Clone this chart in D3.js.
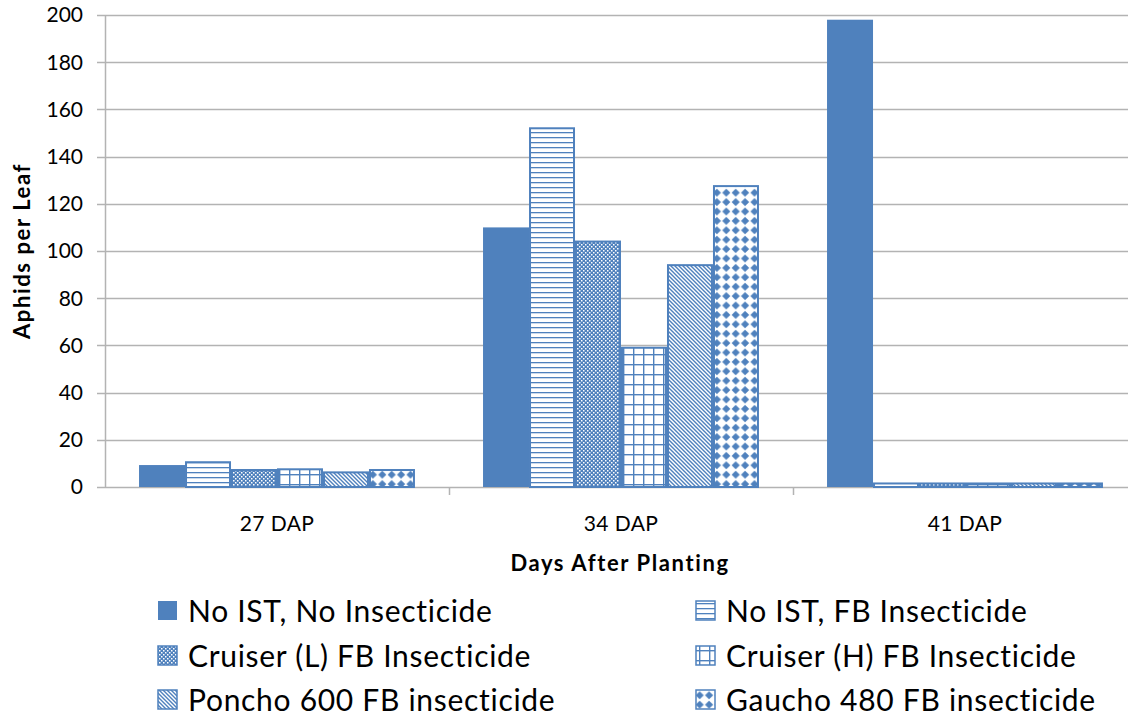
<!DOCTYPE html>
<html>
<head>
<meta charset="utf-8">
<script src="https://cdn.jsdelivr.net/npm/d3@7"></script>
<style>
  body { margin: 0; background: #fff; }
  text { font-family: Lato, "Open Sans", sans-serif; fill: #000; }
</style>
</head>
<body>
<script>
// chart data
var categories = ["27 DAP", "34 DAP", "41 DAP"];
var seriesNames = [
  "No IST, No Insecticide",
  "No IST, FB Insecticide",
  "Cruiser (L) FB Insecticide",
  "Cruiser (H) FB Insecticide",
  "Poncho 600 FB insecticide",
  "Gaucho 480 FB insecticide"
];
var noIstNoIns  = [9.3, 110, 198];
var noIstFb     = [10.5, 152, 1.5];
var cruiserL    = [7.2, 104, 1.5];
var cruiserH    = [7.5, 59, 1.5];
var poncho600   = [6.2, 94, 1.5];
var gaucho480   = [7.2, 127.5, 1.5];
var seriesValues = [noIstNoIns, noIstFb, cruiserL, cruiserH, poncho600, gaucho480];
var yTicks = [0, 20, 40, 60, 80, 100, 120, 140, 160, 180, 200];

var WIDTH = 1128, HEIGHT = 719;
var BLUE = "#4F81BD";
var GRID = "#b3b3b3";

var svg = d3.select("body").append("svg")
  .attr("width", WIDTH).attr("height", HEIGHT);

// fill patterns
var defs = svg.append("defs");
var pats = [];
pats.push(BLUE);

var p1 = defs.append("pattern").attr("id", "p1").attr("patternUnits", "userSpaceOnUse")
  .attr("width", 8).attr("height", 5);
p1.append("rect").attr("width", 8).attr("height", 5).attr("fill", "#fff");
p1.append("rect").attr("y", 2).attr("width", 8).attr("height", 1.3).attr("fill", BLUE);
pats.push("url(#p1)");

var p2 = defs.append("pattern").attr("id", "p2").attr("patternUnits", "userSpaceOnUse")
  .attr("width", 4).attr("height", 4);
p2.append("rect").attr("width", 4).attr("height", 4).attr("fill", BLUE);
p2.append("rect").attr("x", 0).attr("y", 0).attr("width", 1.5).attr("height", 1.5).attr("fill", "#fff");
p2.append("rect").attr("x", 2).attr("y", 2).attr("width", 1.5).attr("height", 1.5).attr("fill", "#fff");
pats.push("url(#p2)");

var p3 = defs.append("pattern").attr("id", "p3").attr("patternUnits", "userSpaceOnUse")
  .attr("width", 10).attr("height", 10);
p3.append("rect").attr("width", 10).attr("height", 10).attr("fill", "#fff");
p3.append("rect").attr("x", 4).attr("width", 1.4).attr("height", 10).attr("fill", BLUE);
p3.append("rect").attr("y", 4).attr("width", 10).attr("height", 1.4).attr("fill", BLUE);
pats.push("url(#p3)");

var p4 = defs.append("pattern").attr("id", "p4").attr("patternUnits", "userSpaceOnUse")
  .attr("width", 4).attr("height", 4);
p4.append("rect").attr("width", 4).attr("height", 4).attr("fill", "#fff");
p4.append("path").attr("d", "M-1,-1 L5,5 M-1,3 L1,5 M3,-1 L5,1")
  .attr("stroke", BLUE).attr("stroke-width", 1.4);
pats.push("url(#p4)");

var p5 = defs.append("pattern").attr("id", "p5").attr("patternUnits", "userSpaceOnUse")
  .attr("width", 9.4).attr("height", 9.4);
p5.append("rect").attr("width", 9.4).attr("height", 9.4).attr("fill", "#fff");
p5.append("path").attr("d", "M4.7,0.6 L8.8,4.7 L4.7,8.8 L0.6,4.7 Z").attr("fill", BLUE);
pats.push("url(#p5)");

// layout
var plotLeft = 105, plotRight = 1137, plotTop = 15, plotBottom = 487;

var x0 = d3.scaleBand().domain(categories).range([plotLeft, plotRight]);
var x1 = d3.scaleBand().domain(d3.range(seriesNames.length))
  .range([0, x0.bandwidth()]).paddingOuter(0.74);
var y = d3.scaleLinear().domain([0, 200]).range([plotBottom, plotTop]);

// gridlines
svg.append("g").selectAll("line").data(yTicks).join("line")
  .attr("x1", plotLeft - 8).attr("x2", plotRight)
  .attr("y1", function(d) { return Math.round(y(d)) + 0.5; })
  .attr("y2", function(d) { return Math.round(y(d)) + 0.5; })
  .attr("stroke", GRID).attr("stroke-width", 1.5);

// y axis line
svg.append("line").attr("x1", plotLeft + 0.5).attr("x2", plotLeft + 0.5)
  .attr("y1", plotTop).attr("y2", plotBottom)
  .attr("stroke", GRID).attr("stroke-width", 1.5);

// y tick labels
svg.append("g").selectAll("text").data(yTicks).join("text")
  .attr("x", 83).attr("y", function(d) { return y(d); })
  .attr("dy", "0.35em").attr("text-anchor", "end")
  .style("font-size", "21px")
  .text(function(d) { return d; });

// x category ticks
svg.append("g").selectAll("line").data(categories.slice(1)).join("line")
  .attr("x1", function(d) { return Math.round(x0(d)) + 0.5; })
  .attr("x2", function(d) { return Math.round(x0(d)) + 0.5; })
  .attr("y1", plotBottom).attr("y2", plotBottom + 8)
  .attr("stroke", GRID).attr("stroke-width", 1.5);

// bars
var groups = svg.append("g").selectAll("g").data(categories).join("g")
  .attr("transform", function(d) { return "translate(" + x0(d) + ",0)"; });

groups.selectAll("rect")
  .data(function(d, ci) {
    return seriesValues.map(function(s, si) { return { si: si, v: s[ci] }; });
  })
  .join("rect")
  .attr("x", function(d) { return x1(d.si) + (d.si === 0 ? 0 : 1); })
  .attr("width", function(d) { return x1.bandwidth() - (d.si === 0 ? 0 : 2); })
  .attr("y", function(d) { return y(d.v); })
  .attr("height", function(d) { return plotBottom - y(d.v); })
  .attr("fill", function(d) { return pats[d.si]; })
  .attr("stroke", function(d) { return d.si === 0 ? "none" : BLUE; })
  .attr("stroke-width", 2);

// category labels
svg.append("g").selectAll("text").data(categories).join("text")
  .attr("x", function(d) { return x0(d) + 172; })
  .attr("y", 531).attr("text-anchor", "middle")
  .style("font-size", "21px").style("letter-spacing", "0.4px")
  .text(function(d) { return d; });

// axis titles
svg.append("text").attr("x", 620).attr("y", 571).attr("text-anchor", "middle")
  .style("font-size", "22px").style("font-weight", "bold").style("letter-spacing", "1.6px")
  .text("Days After Planting");

svg.append("text").attr("transform", "translate(30,251) rotate(-90)")
  .attr("text-anchor", "middle")
  .style("font-size", "22px").style("font-weight", "bold").style("letter-spacing", "1.6px")
  .text("Aphids per Leaf");

// legend
var legCols = [157, 695];
var legRows = [611, 656, 700];
var leg = svg.append("g").selectAll("g").data(seriesNames).join("g")
  .attr("transform", function(d, i) {
    return "translate(" + legCols[i % 2] + "," + legRows[Math.floor(i / 2)] + ")";
  });
leg.append("rect")
  .attr("x", 1).attr("y", -10).attr("width", 19).attr("height", 19)
  .attr("fill", function(d, i) { return pats[i]; })
  .attr("stroke", function(d, i) { return i === 0 ? "none" : BLUE; })
  .attr("stroke-width", 1.5);
leg.append("text").attr("x", 31).attr("y", 0).attr("dy", "0.35em")
  .style("font-size", "30px").style("letter-spacing", "0.7px")
  .text(function(d) { return d; });
</script>
</body>
</html>
